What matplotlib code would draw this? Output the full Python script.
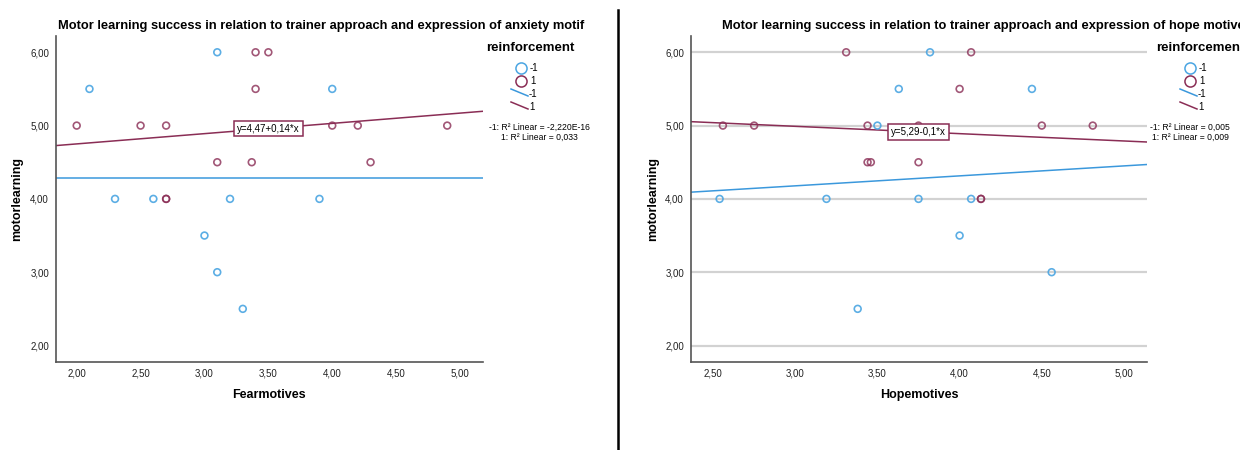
import matplotlib.pyplot as plt
from matplotlib.lines import Line2D
from matplotlib.ticker import FuncFormatter
import numpy as np

plt.rcParams['font.family'] = ['Liberation Sans', 'DejaVu Sans']

# colours used by the chart
blue = '#4aa5e2'
red = '#8a2d55'

# panel 1: fear (anxiety) motives
fear_neg_x = [2.1, 3.1, 4.0, 2.3, 2.6, 3.2, 3.9, 3.0, 3.1, 3.3]
fear_neg_y = [5.5, 6.0, 5.5, 4.0, 4.0, 4.0, 4.0, 3.5, 3.0, 2.5]
fear_pos_x = [2.0, 2.5, 2.7, 2.7, 2.7, 3.1, 3.37, 3.4, 3.5, 3.4, 4.0, 4.2, 4.3, 4.9]
fear_pos_y = [5.0, 5.0, 5.0, 4.0, 4.0, 4.5, 4.5, 6.0, 6.0, 5.5, 5.0, 5.0, 4.5, 5.0]
fear_fit_neg = [4.28, 0.0]     # intercept, slope
fear_fit_pos = [4.47, 0.14]
fear_r2 = ['-2,220E-16', '0,033']

# panel 2: hope motives
hope_neg_x = [2.54, 3.19, 3.75, 4.07, 4.0, 4.56, 3.38, 3.82, 3.63, 4.44, 3.5]
hope_neg_y = [4.0, 4.0, 4.0, 4.0, 3.5, 3.0, 2.5, 6.0, 5.5, 5.5, 5.0]
hope_pos_x = [3.31, 4.07, 4.0, 2.56, 2.75, 3.44, 3.75, 4.5, 4.81, 3.44, 3.46, 3.75, 4.13, 4.13]
hope_pos_y = [6.0, 6.0, 5.5, 5.0, 5.0, 5.0, 5.0, 5.0, 5.0, 4.5, 4.5, 4.5, 4.0, 4.0]
hope_fit_neg = [3.77, 0.136]
hope_fit_pos = [5.29, -0.1]
hope_r2 = ['0,005', '0,009']

groups = ['-1', '1']
y_ticks = [2, 3, 4, 5, 6]

W, H = 1240, 450
fig = plt.figure(figsize=(W / 100, H / 100), dpi=100)


def fx(px):
    return px / W


def fy(py):
    return 1 - py / H


def comma(v, pos):
    return f'{v:.2f}'.replace('.', ',')


def panel(left, right, xlim, xticks, nx, ny, px_, py_, fit_n, fit_p, eq, eq_pos, grid):
    ax = fig.add_axes([fx(left), fy(362), fx(right - left), (362 - 36) / H])
    ax.set_xlim(xlim)
    ax.set_ylim(1.775, 6.222)
    ax.set_xticks(xticks)
    ax.set_yticks(y_ticks)
    ax.xaxis.set_major_formatter(FuncFormatter(comma))
    ax.yaxis.set_major_formatter(FuncFormatter(comma))
    ax.tick_params(length=0, labelsize=7, colors='#222222')
    ax.tick_params(axis='y', pad=5)
    ax.tick_params(axis='x', pad=5)
    for s in ['top', 'right']:
        ax.spines[s].set_visible(False)
    for s in ['left', 'bottom']:
        ax.spines[s].set_color('#555555')
        ax.spines[s].set_linewidth(1.2)
    if grid:
        ax.yaxis.grid(True, color='#d2d2d2', lw=1.6)
        ax.set_axisbelow(True)
    xs = np.array(xlim)
    ax.plot(xs, fit_n[0] + fit_n[1] * xs, color='#3b98dc', lw=1.1, zorder=2)
    ax.plot(xs, fit_p[0] + fit_p[1] * xs, color=red, lw=1.1, zorder=2)
    ax.scatter(nx, ny, s=24, facecolors='none', edgecolors=blue, linewidths=1.2,
               alpha=0.9, zorder=3)
    ax.scatter(px_, py_, s=24, facecolors='none', edgecolors=red, linewidths=1.2,
               alpha=0.8, zorder=3)
    ax.text(eq_pos[0], eq_pos[1], eq, fontsize=7, ha='center', va='center', zorder=5,
            bbox=dict(boxstyle='square,pad=0.3', fc='white', ec=red, lw=1.1))
    return ax


panel(56, 483, (1.838, 5.18), [2, 2.5, 3, 3.5, 4, 4.5, 5],
      fear_neg_x, fear_neg_y, fear_pos_x, fear_pos_y, fear_fit_neg, fear_fit_pos,
      'y=4,47+0,14*x', (3.5, 4.96), False)
panel(691, 1147, (2.366, 5.14), [2.5, 3, 3.5, 4, 4.5, 5],
      hope_neg_x, hope_neg_y, hope_pos_x, hope_pos_y, hope_fit_neg, hope_fit_pos,
      'y=5,29-0,1*x', (3.75, 4.91), True)

# titles and axis labels
fig.text(fx(58), fy(26), 'Motor learning success in relation to trainer approach '
         'and expression of anxiety motif', fontsize=9.3, weight='bold', va='center')
fig.text(fx(722), fy(26), 'Motor learning success in relation to trainer approach '
         'and expression of hope motives', fontsize=9.3, weight='bold', va='center')
fig.text(fx(269), fy(395), 'Fearmotives', fontsize=9, weight='bold', ha='center', va='center')
fig.text(fx(919), fy(395), 'Hopemotives', fontsize=9, weight='bold', ha='center', va='center')
fig.text(fx(17), fy(199), 'motorlearning', fontsize=9, weight='bold', rotation=90,
         ha='center', va='center')
fig.text(fx(653), fy(199), 'motorlearning', fontsize=9, weight='bold', rotation=90,
         ha='center', va='center')


def legend(title_x, title_ha, cx, r2_x, r2):
    fig.text(fx(title_x), fy(48), 'reinforcement', fontsize=9.5, weight='bold',
             ha=title_ha, va='center')
    for yy, c, g in [(68, blue, groups[0]), (81, red, groups[1])]:
        fig.add_artist(Line2D([fx(cx)], [fy(yy)], marker='o', ms=8, mfc='none',
                              mec=c, mew=1.1, transform=fig.transFigure))
        fig.text(fx(cx + 9), fy(yy), g, fontsize=7, va='center')
    for yy, c, g in [(94, '#3b98dc', groups[0]), (107, red, groups[1])]:
        fig.add_artist(Line2D([fx(cx - 10), fx(cx + 7)], [fy(yy - 5), fy(yy + 2)],
                              color=c, lw=1.1, transform=fig.transFigure))
        fig.text(fx(cx + 8), fy(yy), g, fontsize=7, va='center')
    fig.text(fx(r2_x), fy(127), f'-1: R² Linear = {r2[0]}', fontsize=6.2,
             ha='center', va='center')
    fig.text(fx(r2_x), fy(137), f'1: R² Linear = {r2[1]}', fontsize=6.2,
             ha='center', va='center')


legend(530, 'center', 521, 539, fear_r2)
legend(1156, 'left', 1190, 1190, hope_r2)

# divider between the two charts
fig.add_artist(Line2D([fx(618), fx(618)], [0, fy(10)], color='black', lw=1.8,
                      transform=fig.transFigure))

fig.savefig('out.png', dpi=100)
